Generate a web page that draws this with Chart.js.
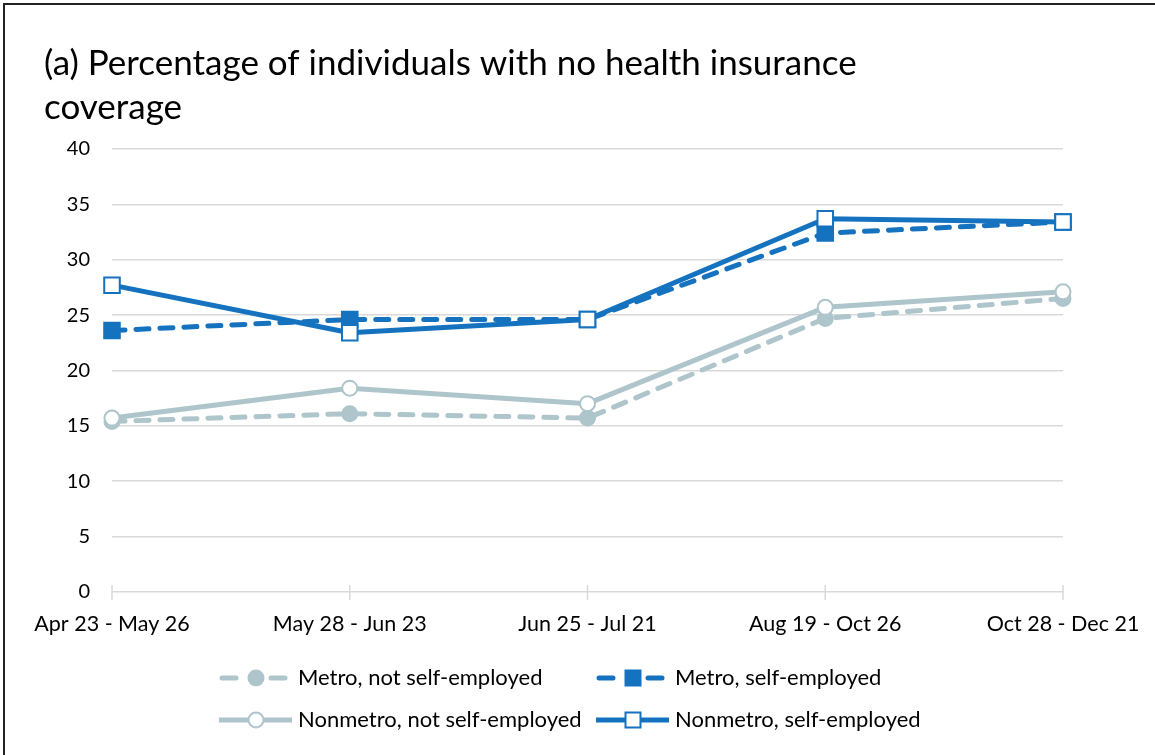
<!DOCTYPE html>
<html>
<head>
<meta charset="utf-8">
<script src="https://cdn.jsdelivr.net/npm/chart.js@4.4.1/dist/chart.umd.min.js"></script>
<style>
  html, body { margin: 0; padding: 0; background: #fff; }
</style>
</head>
<body>
<canvas id="chart" width="1155" height="755"></canvas>
<script>
// survey periods (2020)
var periods = ['Apr 23 - May 26', 'May 28 - Jun 23', 'Jun 25 - Jul 21', 'Aug 19 - Oct 26', 'Oct 28 - Dec 21'];

// % with no health insurance coverage
var metroNotSelf = [15.4, 16.1, 15.7, 24.7, 26.5];
var metroSelf = [23.6, 24.6, 24.6, 32.4, 33.4];
var nonmetroNotSelf = [15.7, 18.4, 17.0, 25.7, 27.1];
var nonmetroSelf = [27.7, 23.4, 24.6, 33.7, 33.4];

var yTicks = [0, 5, 10, 15, 20, 25, 30, 35, 40];

var DARK = '#1572bf';
var LIGHT = '#aec5cb';
var FONT = 'Lato';

function series(label, data, color, dashed, style, open, order) {
    return {
        label: label,
        data: data,
        borderColor: color,
        backgroundColor: color,
        borderWidth: 5,
        borderDash: dashed ? [13, 11] : [],
        borderCapStyle: 'round',
        borderJoinStyle: 'round',
        tension: 0,
        pointStyle: style,
        pointRadius: style === 'rect' ? 11 : 7.5,
        pointBorderWidth: 2,
        pointBorderColor: color,
        pointBackgroundColor: open ? '#fff' : color,
        order: order,
        _dashed: dashed,
        _open: open
    };
}

// cross tick marks on the category axis + the outer frame
var axisMarks = {
    id: 'axisMarks',
    beforeDatasetsDraw: function (chart) {
        var ctx = chart.ctx, xs = chart.scales.x, y0 = chart.chartArea.bottom;
        ctx.save();
        ctx.strokeStyle = '#d9d9d9';
        ctx.lineWidth = 1.5;
        ctx.beginPath();
        for (var i = 0; i < periods.length; i++) {
            var px = xs.getPixelForValue(i);
            ctx.moveTo(px, y0 - 7);
            ctx.lineTo(px, y0 + 8);
        }
        ctx.stroke();
        ctx.restore();
    },
    afterDraw: function (chart) {
        var ctx = chart.ctx;
        ctx.save();
        ctx.strokeStyle = '#222';
        ctx.lineWidth = 2;
        ctx.beginPath();
        ctx.moveTo(4, chart.height);
        ctx.lineTo(4, 4);
        ctx.lineTo(chart.width, 4);
        ctx.stroke();
        ctx.restore();
    }
};

// two-column legend with line + marker samples
var lineLegend = {
    id: 'lineLegend',
    afterDraw: function (chart) {
        var ctx = chart.ctx;
        var cols = [219, 596], rows = [678, 720];
        var sets = chart.data.datasets;
        ctx.save();
        for (var i = 0; i < sets.length; i++) {
            var ds = sets[i];
            var x0 = cols[i % 2], y = rows[Math.floor(i / 2)];
            var mid = x0 + 37;
            ctx.strokeStyle = ds.borderColor;
            ctx.lineWidth = 5;
            ctx.lineCap = 'round';
            ctx.beginPath();
            if (ds._dashed) {
                ctx.moveTo(x0 + 3, y); ctx.lineTo(x0 + 17, y);
                ctx.moveTo(x0 + 52, y); ctx.lineTo(x0 + 66, y);
            } else {
                ctx.lineCap = 'butt';
                ctx.moveTo(x0, y); ctx.lineTo(x0 + 73, y);
            }
            ctx.stroke();
            ctx.lineWidth = 2;
            ctx.fillStyle = ds._open ? '#fff' : ds.borderColor;
            ctx.beginPath();
            if (ds.pointStyle === 'rect') {
                ctx.rect(mid - 7.5, y - 7.5, 15, 15);
            } else {
                ctx.arc(mid, y, 7.5, 0, Math.PI * 2);
            }
            ctx.fill();
            ctx.stroke();
            ctx.fillStyle = '#000';
            ctx.font = '22px ' + FONT;
            ctx.textBaseline = 'middle';
            ctx.fillText(ds.label, x0 + 79, y);
        }
        ctx.restore();
    }
};

new Chart(document.getElementById('chart'), {
    type: 'line',
    data: {
        labels: periods,
        datasets: [
            series('Metro, not self-employed', metroNotSelf, LIGHT, true, 'circle', false, 3),
            series('Metro, self-employed', metroSelf, DARK, true, 'rect', false, 2),
            series('Nonmetro, not self-employed', nonmetroNotSelf, LIGHT, false, 'circle', true, 1),
            series('Nonmetro, self-employed', nonmetroSelf, DARK, false, 'rect', true, 0)
        ]
    },
    plugins: [axisMarks, lineLegend],
    options: {
        responsive: false,
        animation: false,
        devicePixelRatio: 1,
        layout: { padding: { left: 44, right: 92, top: 15, bottom: 103 } },
        plugins: {
            legend: { display: false },
            tooltip: { enabled: false },
            title: {
                display: true,
                text: ['(a) Percentage of individuals with no health insurance', 'coverage'],
                align: 'start',
                color: '#000',
                font: { family: FONT, size: 35, weight: 'normal', lineHeight: 1.27 },
                padding: { top: 26, bottom: 19 }
            }
        },
        scales: {
            x: {
                grid: { display: false, drawTicks: false },
                border: { display: false },
                ticks: {
                    color: '#000',
                    padding: 19,
                    maxRotation: 0,
                    autoSkip: false,
                    font: { family: FONT, size: 21.5 }
                },
                afterFit: function (s) {
                    s.paddingLeft = 0;
                    s.paddingRight = 0;
                    s.height = 60;
                }
            },
            y: {
                min: 0,
                max: 40,
                afterBuildTicks: function (s) {
                    s.ticks = yTicks.map(function (v) { return { value: v }; });
                },
                grid: { color: '#d9d9d9', lineWidth: 1.5, drawTicks: false },
                border: { display: false },
                ticks: {
                    color: '#000',
                    padding: 22,
                    font: { family: FONT, size: 20 }
                },
                afterFit: function (s) {
                    s.width = 68;
                    s.paddingTop = 0;
                    s.paddingBottom = 0;
                }
            }
        }
    }
});
</script>
</body>
</html>
